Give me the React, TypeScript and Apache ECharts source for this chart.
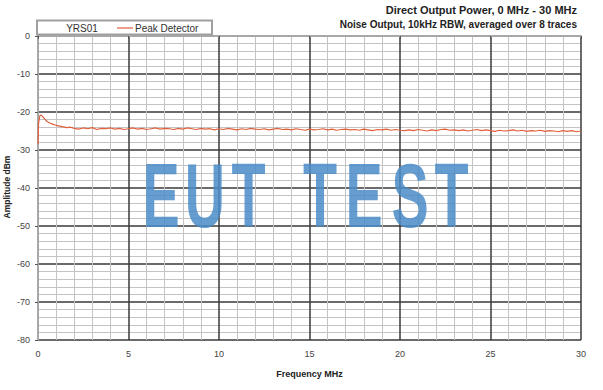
import React, { useEffect, useRef } from "react";
import * as echarts from "echarts";

const freqMHz: number[] = [
  0, 0.03, 0.1, 0.18, 0.3, 0.4, 0.5, 0.65, 0.8, 1.0, 1.2, 1.4, 1.6, 1.8,
  2.0, 2.25, 2.5, 2.75, 3.0, 3.25, 3.5, 3.75, 4.0, 4.25, 4.5, 4.75,
  5.0, 5.25, 5.5, 5.75, 6.0, 6.25, 6.5, 6.75, 7.0, 7.25, 7.5, 7.75,
  8.0, 8.25, 8.5, 8.75, 9.0, 9.25, 9.5, 9.75, 10.0, 10.25, 10.5, 10.75,
  11.0, 11.25, 11.5, 11.75, 12.0, 12.25, 12.5, 12.75, 13.0, 13.25, 13.5, 13.75,
  14.0, 14.25, 14.5, 14.75, 15.0, 15.25, 15.5, 15.75, 16.0, 16.25, 16.5, 16.75,
  17.0, 17.25, 17.5, 17.75, 18.0, 18.25, 18.5, 18.75, 19.0, 19.25, 19.5, 19.75,
  20.0, 20.25, 20.5, 20.75, 21.0, 21.25, 21.5, 21.75, 22.0, 22.25, 22.5, 22.75,
  23.0, 23.25, 23.5, 23.75, 24.0, 24.25, 24.5, 24.75, 25.0, 25.25, 25.5, 25.75,
  26.0, 26.25, 26.5, 26.75, 27.0, 27.25, 27.5, 27.75, 28.0, 28.25, 28.5, 28.75,
  29.0, 29.25, 29.5, 29.75, 30.0,
];

const peakDetectorDbm: number[] = [
  -28.5, -23.0, -21.0, -20.8, -21.4, -22.0, -22.5, -22.9, -23.2, -23.5, -23.7, -23.9, -24.1, -24.0,
  -24.3, -24.5, -24.2, -24.4, -24.1, -24.6, -24.3, -24.4, -24.2, -24.5, -24.3, -24.6,
  -24.4, -24.2, -24.5, -24.3, -24.6, -24.4, -24.2, -24.5, -24.3, -24.4, -24.6, -24.3,
  -24.5, -24.2, -24.4, -24.6, -24.3, -24.5, -24.4, -24.7, -24.4, -24.6, -24.3, -24.5,
  -24.7, -24.4, -24.6, -24.3, -24.5, -24.6, -24.4, -24.7, -24.5, -24.3, -24.6, -24.5,
  -24.7, -24.4, -24.6, -24.8, -24.5, -24.7, -24.6, -24.4, -24.7, -24.5, -24.8, -24.6,
  -24.5, -24.7, -24.6, -24.8, -24.5, -24.7, -24.9, -24.6, -24.7, -24.5, -24.8, -24.6,
  -24.8, -24.9, -24.7, -24.9, -24.6, -24.8, -25.0, -24.7, -24.9, -24.6, -24.5, -24.8,
  -24.7, -24.9, -24.7, -25.0, -24.8, -24.6, -24.9, -24.7, -24.9, -25.1, -24.8, -25.0,
  -24.9, -24.7, -25.0, -24.8, -25.1, -24.9, -25.0, -24.8, -25.1, -24.9, -25.0, -25.2,
  -24.9, -25.1, -24.9, -25.2, -25.0,
];

const titleLine1 = "Direct Output Power, 0 MHz - 30 MHz";
const titleLine2 = "Noise Output, 10kHz RBW, averaged over 8 traces";
const xAxisName = "Frequency MHz";
const yAxisName = "Amplitude dBm";
const legendLabels = ["YRS01", "Peak Detector"];
const watermarkLetters = ["E", "U", "T", "T", "E", "S", "T"];
const watermarkCenters = [161, 205, 248.5, 320, 364, 410, 451.5];

export default function App() {
  const ref = useRef<HTMLDivElement>(null);

  useEffect(() => {
    if (!ref.current) return;
    const chart = echarts.init(ref.current, null, { renderer: "svg" });
    const font = "'Liberation Sans', Arial, sans-serif";
    const data = freqMHz.map((f, i) => [f, peakDetectorDbm[i]]);

    const option: any = {
      animation: false,
      backgroundColor: "#ffffff",
      textStyle: { fontFamily: font },
      grid: {
        left: 38,
        right: 22,
        top: 36,
        bottom: 50,
        containLabel: false,
        outerBoundsMode: "none",
      },
      xAxis: {
        type: "value",
        min: 0,
        max: 30,
        interval: 5,
        name: xAxisName,
        nameLocation: "middle",
        nameGap: 29,
        nameTextStyle: { fontFamily: font, fontSize: 9, fontWeight: "bold", color: "#222" },
        axisLine: { show: true, lineStyle: { color: "#a8a8a8", width: 2 } },
        axisTick: { show: true, length: 3, lineStyle: { color: "#555", width: 1 } },
        axisLabel: { fontFamily: font, fontSize: 9, color: "#444", margin: 9 },
        splitLine: { show: true, lineStyle: { color: "#3a3a3a", width: 1.5 } },
        minorTick: { show: false, splitNumber: 5 },
        minorSplitLine: { show: true, lineStyle: { color: "#c4c4c4", width: 1 } },
      },
      yAxis: {
        type: "value",
        min: -80,
        max: 0,
        interval: 10,
        axisLine: { show: true, lineStyle: { color: "#a8a8a8", width: 2 } },
        axisTick: { show: true, length: 3, lineStyle: { color: "#555", width: 1 } },
        axisLabel: { fontFamily: font, fontSize: 9, color: "#444", margin: 8 },
        splitLine: { show: true, lineStyle: { color: "#3a3a3a", width: 1.5 } },
        minorTick: { show: false, splitNumber: 5 },
        minorSplitLine: { show: true, lineStyle: { color: "#c4c4c4", width: 1 } },
      },
      series: [
        {
          name: "Peak Detector",
          type: "line",
          data,
          showSymbol: false,
          lineStyle: { color: "#e0603c", width: 1.2 },
          z: 5,
        },
      ],
      graphic: [
        {
          type: "text",
          x: 6.5,
          y: 187,
          rotation: Math.PI / 2,
          style: {
            text: yAxisName,
            font: `bold 8.5px ${font}`,
            fill: "#222",
            textAlign: "center",
            textVerticalAlign: "middle",
          },
        },
        {
          type: "rect",
          shape: { x: 37, y: 20.5, width: 175, height: 14 },
          style: { fill: "#ffffff", stroke: "#a0a0a0", lineWidth: 2 },
          z: 10,
        },
        {
          type: "text",
          x: 82,
          y: 28,
          style: {
            text: legendLabels[0],
            font: `10px ${font}`,
            fill: "#333",
            textAlign: "center",
            textVerticalAlign: "middle",
          },
          z: 11,
        },
        {
          type: "line",
          shape: { x1: 117, y1: 28, x2: 133, y2: 28 },
          style: { stroke: "#e0603c", lineWidth: 1.2 },
          z: 11,
        },
        {
          type: "text",
          x: 135,
          y: 28,
          style: {
            text: legendLabels[1],
            font: `10px ${font}`,
            fill: "#333",
            textAlign: "left",
            textVerticalAlign: "middle",
          },
          z: 11,
        },
        {
          type: "text",
          x: 577,
          y: 9.5,
          style: {
            text: titleLine1,
            font: `bold 11px ${font}`,
            fill: "#222",
            textAlign: "right",
            textVerticalAlign: "middle",
          },
        },
        {
          type: "text",
          x: 577,
          y: 24,
          style: {
            text: titleLine2,
            font: `bold 10px ${font}`,
            fill: "#222",
            textAlign: "right",
            textVerticalAlign: "middle",
          },
        },
        ...watermarkLetters.map((ch, i) => ({
          type: "text",
          x: watermarkCenters[i],
          y: 196,
          scaleX: 0.62,
          style: {
            text: ch,
            font: `bold 90px ${font}`,
            fill: "#4a8cc8",
            opacity: 0.85,
            textAlign: "center",
            textVerticalAlign: "middle",
          },
          z: 20,
        })),
      ],
    };

    chart.setOption(option);
    return () => chart.dispose();
  }, []);

  return <div ref={ref} style={{ width: 603, height: 390, position: "absolute", left: 0, top: 0 }} />;
}
